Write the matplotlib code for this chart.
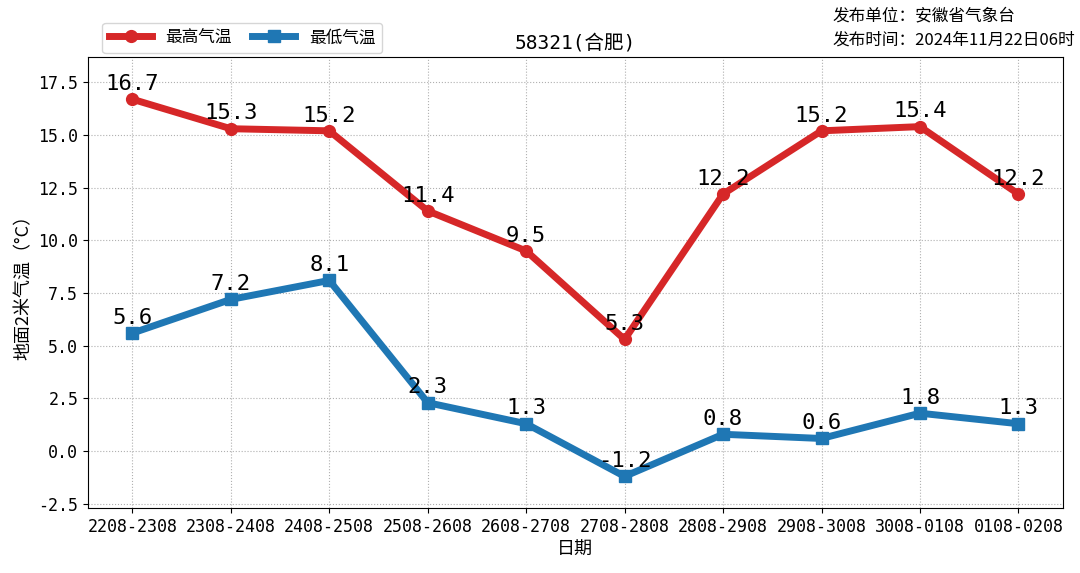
import numpy as np
import matplotlib.pyplot as plt

plt.rcParams['font.family'] = ['Noto Sans CJK SC', 'DejaVu Sans']
plt.rcParams['axes.unicode_minus'] = False
mono = ['DejaVu Sans Mono', 'Noto Sans CJK SC']

# 日期区间与气温数据
dates = ["2208-2308", "2308-2408", "2408-2508", "2508-2608", "2608-2708",
         "2708-2808", "2808-2908", "2908-3008", "3008-0108", "0108-0208"]
tmax = [16.7, 15.3, 15.2, 11.4, 9.5, 5.3, 12.2, 15.2, 15.4, 12.2]
tmin = [5.6, 7.2, 8.1, 2.3, 1.3, -1.2, 0.8, 0.6, 1.8, 1.3]

fig = plt.figure(figsize=(10.8, 5.73), dpi=100)
ax = fig.add_axes([0.0815, 0.1134, 0.9025, 0.787])

x = np.arange(len(dates))
l1, = ax.plot(x, tmax, color='#d62728', lw=5, marker='o', ms=8.5, label='最高气温')
l2, = ax.plot(x, tmin, color='#1f77b4', lw=5, marker='s', ms=8.5, label='最低气温')

for xi, v in zip(x, tmax):
    ax.annotate(f"{v}", (xi, v), xytext=(0, 11), textcoords='offset points',
                ha='center', va='center', fontsize=16, family=mono)
for xi, v in zip(x, tmin):
    ax.annotate(f"{v}", (xi, v), xytext=(0, 11), textcoords='offset points',
                ha='center', va='center', fontsize=16, family=mono)

ax.set_xticks(x)
ax.set_xticklabels(dates, fontsize=12, family=mono)
ax.set_ylim(-2.7, 18.7)
ax.set_yticks(np.arange(-2.5, 18, 2.5))
for lab in ax.get_yticklabels():
    lab.set_family(mono)
    lab.set_fontsize(12)
ax.grid(True, ls=':', color='#b0b0b0')
ax.set_xlabel('日期', fontsize=13)
ax.set_ylabel('地面2米气温（°C）', fontsize=13)
ax.set_title('58321(合肥)', fontsize=14, family=mono)

fig.legend(handles=[l1, l2], loc='upper left', bbox_to_anchor=(0.087, 0.975),
           ncol=2, fontsize=12, frameon=True, handlelength=2.6, columnspacing=1.2)
fig.text(0.771, 0.958, '发布单位：安徽省气象台', fontsize=12, ha='left', va='bottom')
fig.text(0.771, 0.915, '发布时间：2024年11月22日06时', fontsize=12, ha='left', va='bottom')

fig.savefig('out.png', dpi=100)
